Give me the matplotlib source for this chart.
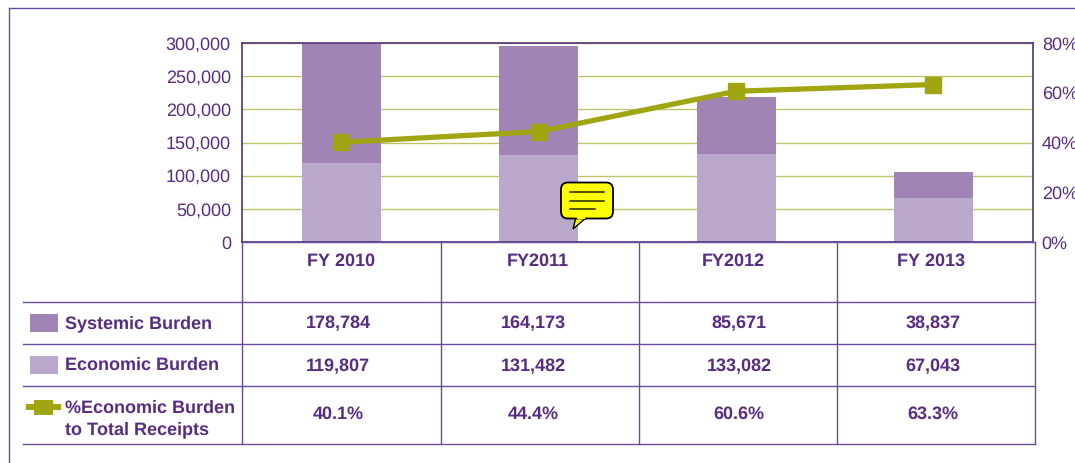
import matplotlib
matplotlib.use("Agg")
import matplotlib.pyplot as plt
from matplotlib.lines import Line2D
from matplotlib.patches import FancyBboxPatch, Polygon, Rectangle
from matplotlib.transforms import Affine2D, ScaledTranslation

W, H = 1075, 464
years = ["FY 2010", "FY2011", "FY2012", "FY 2013"]
systemic = [178784, 164173, 85671, 38837]
economic = [119807, 131482, 133082, 67043]
percent = [40.1, 44.4, 60.6, 63.3]
systemic_labels = ["178,784", "164,173", "85,671", "38,837"]
economic_labels = ["119,807", "131,482", "133,082", "67,043"]
percent_labels = ["40.1%", "44.4%", "60.6%", "63.3%"]
left_ticks = [0, 50000, 100000, 150000, 200000, 250000, 300000]
right_ticks = [0, 20, 40, 60, 80]

PURPLE = "#582c83"
RULE = "#6a4c9f"
DARK = "#a084b6"
LIGHT = "#b9a7cc"
OLIVE = "#a0a512"
GRID = "#c0c468"

plt.rcParams["font.family"] = ["Liberation Sans", "DejaVu Sans"]
plt.rcParams["text.hinting"] = "no_hinting"
plt.rcParams["text.hinting_factor"] = 1
fig = plt.figure(figsize=(W / 100, H / 100), dpi=100)
px = Affine2D().scale(1, -1).translate(0, H)  # pixel space, y measured from the top


def hline(y, x0, x1, lw=1.0, c=RULE):
    fig.add_artist(Line2D([x0, x1], [y, y], transform=px, color=c, lw=lw, zorder=5))


def vline(x, y0, y1, lw=1.0, c=RULE):
    fig.add_artist(Line2D([x, x], [y0, y1], transform=px, color=c, lw=lw, zorder=5))


def label(x, y, s, ha="center", bold=True, size=13.15):
    fig.text(x / W, 1 - y / H, s, ha=ha, va="center", color=PURPLE, fontsize=size,
             fontweight="bold" if bold else "normal")


ax = fig.add_axes([242 / W, 1 - 243 / H, (1033 - 242) / W, (243 - 44) / H])
ax.set_xlim(-0.504, 3.505)
ax.set_ylim(0, 300000)
x = range(len(years))
ax.set_yticks(left_ticks)
ax.set_yticklabels([f"{v:,}" for v in left_ticks], color=PURPLE, fontsize=12.7)
ax.set_xticks([])
ax.tick_params(axis="y", length=0, pad=8)
ax.yaxis.grid(True, color=GRID, lw=1.0)
ax.set_axisbelow(True)
ax.bar(x, economic, width=0.4, color=LIGHT, zorder=2)
ax.bar(x, systemic, width=0.4, bottom=economic, color=DARK, zorder=2)
for s in ax.spines.values():
    s.set_color("#52307f")
    s.set_linewidth(1.2)

ax2 = ax.twinx()
ax2.set_ylim(0, 80)
ax2.set_yticks(right_ticks)
ax2.set_yticklabels([f"{v}%" for v in right_ticks], color=PURPLE, fontsize=12.7)
ax2.tick_params(axis="y", length=0, pad=6.3)
ax2.plot(x, percent, color=OLIVE, lw=3.8, marker="s", ms=11.8, zorder=4)
for s in ax2.spines.values():
    s.set_visible(False)

nudge = ScaledTranslation(0, 0.01, fig.dpi_scale_trans)
for t in ax.get_yticklabels() + ax2.get_yticklabels():
    t.set_transform(t.get_transform() + nudge)

# outer frame: runs off the right and bottom of the picture
hline(9, 8.5, W, lw=1.0)
vline(8.5, 9, H, lw=1.0)

# table rules
for xv in [242, 441, 639, 837, 1035]:
    vline(xv, 243, 445)
for yv in [303, 345, 387, 445]:
    hline(yv, 23, 1035)
hline(243, 242, 1035)

# table text
year_x = [341, 538, 733, 931]
value_x = [338, 533, 739, 933]
for xv, s in zip(year_x, years):
    label(xv, 261, s, size=12.9)
for xv, a, b, c in zip(value_x, systemic_labels, economic_labels, percent_labels):
    label(xv, 324, a)
    label(xv, 366.5, b)
    label(xv, 414.5, c)

# legend keys and names
fig.add_artist(Rectangle((30, 315), 28, 18, transform=px, color=DARK, lw=0))
fig.add_artist(Rectangle((30, 357), 28, 18, transform=px, color=LIGHT, lw=0))
fig.add_artist(Rectangle((26, 405), 35, 6, transform=px, color=OLIVE, lw=0))
fig.add_artist(Rectangle((34, 401), 19, 15, transform=px, color=OLIVE, lw=0))
label(65, 323.5, "Systemic Burden", ha="left", size=12.9)
label(65, 365.5, "Economic Burden", ha="left", size=12.9)
label(65, 408.5, "%Economic Burden", ha="left", size=12.9)
label(65, 429.5, "to Total Receipts", ha="left", size=12.9)

# yellow comment bubble
fig.add_artist(Polygon([(576, 218), (573, 230), (586, 219)], transform=px,
                       fc="#ffff00", ec="black", lw=1.0, zorder=8))
fig.add_artist(FancyBboxPatch((567, 189.5), 40, 24, boxstyle="round,pad=6,rounding_size=7",
                              transform=px, fc="#ffff00", ec="black", lw=1.3, zorder=8))
fig.add_artist(Rectangle((577, 215), 8, 5, transform=px, fc="#ffff00", lw=0, zorder=9))
for yv, x1 in [(193, 604), (202, 604), (210, 595)]:
    fig.add_artist(Line2D([570, x1], [yv, yv], transform=px, color="#222200", lw=1.1, zorder=10))

fig.savefig("out.png", dpi=100)
